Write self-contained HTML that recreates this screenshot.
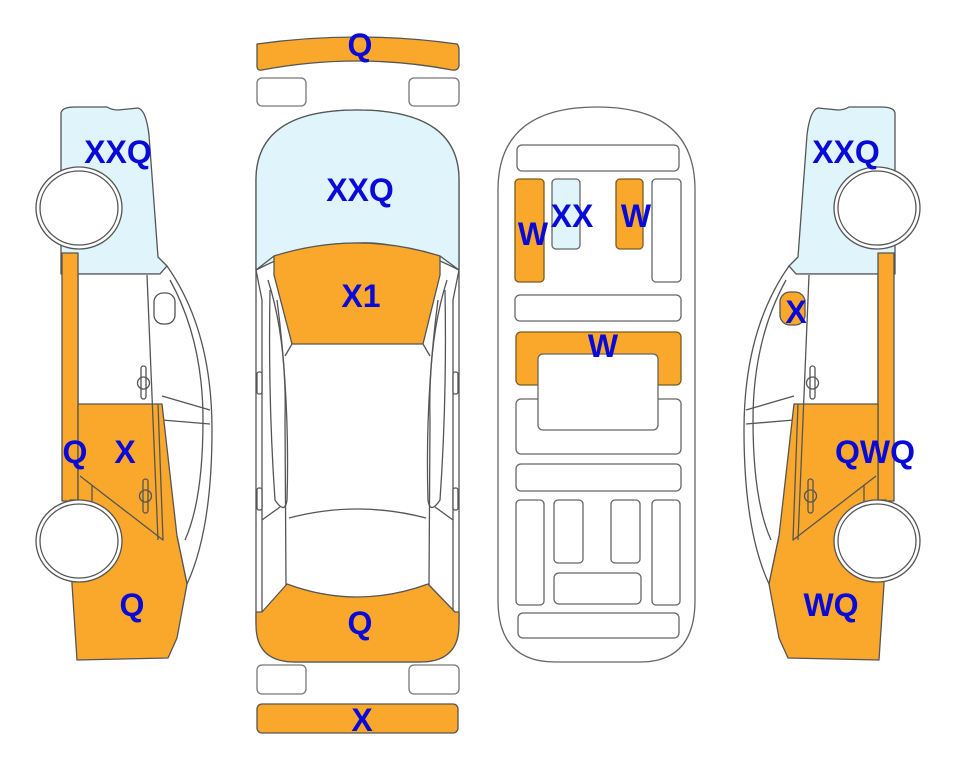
<!DOCTYPE html>
<html><head><meta charset="utf-8"><style>
html,body{margin:0;padding:0;background:#fff;}
svg{display:block;}
text{font-family:"Liberation Sans",Arial,sans-serif;font-weight:bold;font-size:32px;fill:#0a0ad8;text-anchor:middle;}
</style></head><body>
<svg width="963" height="768" viewBox="0 0 963 768" xmlns="http://www.w3.org/2000/svg">
<defs>
<g id="car" stroke="#555" stroke-width="1.3" stroke-linejoin="round">
  <path d="M61,113 Q62,107 75,107 L107,107 Q112,110 118,110 L138,108 Q146,110 149,135 L158,257 L167,266 L160,274 L78,274 L61,274 Z" fill="#dff4fb"/>
  <path d="M160,274 L167,266 Q212,330 212,430 Q212,530 187,584 L177,536 L163,540 L80,476 L78,404 L78,274 Z" fill="#fff"/>
  <path d="M170,280 Q203,340 203,420 Q203,500 185,540" fill="none"/>
  <path d="M162,396 L210,410 M162,420 L210,424" fill="none"/>
  <rect x="62" y="253" width="16" height="248" fill="#f9a82b"/>
  <path d="M78,404 L162,404 L177,536 L187,584 L177,638 L168,658 L77,660 L72,584 L70,500 L78,500 Z" fill="#f9a82b"/>
  <path d="M80,476 L163,540 L158,404" fill="none"/>
  <path d="M92,485 L92,505" fill="none"/>
  <path d="M147,275 L158,540" fill="none"/>
  <rect x="141" y="366" width="5" height="33" rx="2.5" fill="none"/>
  <circle cx="143.5" cy="383" r="6" fill="none"/>
  <rect x="143" y="479" width="5" height="34" rx="2.5" fill="none"/>
  <circle cx="145.5" cy="496" r="6" fill="none"/>
  <rect x="154" y="293" width="21" height="31" rx="9" fill="#fff"/>
  <ellipse cx="79" cy="208" rx="43" ry="41" fill="#fff"/>
  <ellipse cx="79" cy="208" rx="39" ry="37" fill="#fff"/>
  <ellipse cx="79" cy="541" rx="43" ry="41" fill="#fff"/>
  <ellipse cx="79" cy="541" rx="39" ry="37" fill="#fff"/>
</g>
</defs>

<use href="#car"/>
<text x="118" y="163">XXQ</text>
<text x="75" y="463">Q</text>
<text x="125" y="463">X</text>
<text x="132" y="616">Q</text>

<g transform="translate(956,0) scale(-1,1)">
  <use href="#car"/>
  <rect x="151" y="292" width="25" height="33" rx="10" fill="#f9a82b" stroke="#555" stroke-width="1.3"/>
</g>
<text x="846" y="163">XXQ</text>
<text x="796" y="323">X</text>
<text x="875" y="463">QWQ</text>
<text x="831" y="616">WQ</text>

<g stroke="#555" stroke-width="1.3" stroke-linejoin="round">
  <path d="M257,44 Q357,30 457,44 Q459,46 459,50 L459,66 Q458,71 452,70 Q357,52 262,70 Q257,71 257,66 L257,50 Q257,46 257,44 Z" fill="#f9a82b"/>
  <rect x="257" y="78" width="49" height="28" rx="5" fill="#fff" stroke="#777"/>
  <rect x="409" y="78" width="50" height="28" rx="5" fill="#fff" stroke="#777"/>
  <rect x="257" y="665" width="49" height="29" rx="5" fill="#fff" stroke="#777"/>
  <rect x="409" y="665" width="50" height="29" rx="5" fill="#fff" stroke="#777"/>
  <rect x="257" y="704" width="201" height="29" rx="5" fill="#f9a82b"/>

  <path d="M256,180 Q256,110 357,110 Q459,110 459,180 L459,620 Q459,662 420,662 L295,662 Q256,662 256,620 Z" fill="#fff"/>
  <path d="M256,180 Q256,110 357,110 Q459,110 459,180 L459,270 Q400,240 357,243 Q310,242 256,270 Z" fill="#dff4fb"/>
  <path d="M274,256 Q357,230 440,256 L440,275 L423,344 L292,344 L274,275 Z" fill="#f9a82b"/>
  <path d="M256,270 L274,256 M459,270 L440,256" fill="none"/>
  <path d="M256,270 L262,300 L262,620 M459,270 L453,300 L453,620" fill="none"/>
  <path d="M268,280 Q287,340 285,420 L286,585 M447,280 Q428,340 430,420 L429,585" fill="none"/>
  <path d="M292,344 L285,356 M423,344 L430,356" fill="none"/>
  <path d="M277,300 Q290,400 287,500 Q285,515 275,500 Q268,400 270,290" fill="none"/>
  <path d="M438,300 Q425,400 428,500 Q430,515 440,500 Q447,400 445,290" fill="none"/>
  <path d="M289,518 Q357,500 426,518" fill="none"/>
  <path d="M262,520 L280,507 M453,520 L435,507" fill="none"/>
  <rect x="257" y="372" width="5" height="22" rx="2" fill="#fff"/>
  <rect x="453" y="372" width="5" height="22" rx="2" fill="#fff"/>
  <rect x="257" y="488" width="5" height="22" rx="2" fill="#fff"/>
  <rect x="453" y="488" width="5" height="22" rx="2" fill="#fff"/>
  <path d="M287,584 Q357,610 428,584 L455,612 L459,612 L459,625 Q459,662 420,662 L295,662 Q256,662 256,625 L256,612 L262,612 Z" fill="#f9a82b"/>
</g>
<text x="360" y="56">Q</text>
<text x="360" y="201">XXQ</text>
<text x="361" y="307">X1</text>
<text x="360" y="634">Q</text>
<text x="362" y="731">X</text>

<g stroke="#666" stroke-width="1.3">
  <path d="M498,190 Q498,107 597,107 Q695,107 695,190 L695,600 Q695,662 640,662 L555,662 Q498,662 498,600 Z" fill="#fff"/>
  <rect x="517" y="145" width="162" height="26" rx="5" fill="#fff"/>
  <rect x="515" y="179" width="29" height="103" rx="4" fill="#f9a82b" stroke="#7a5a20"/>
  <rect x="552" y="179" width="28" height="70" rx="4" fill="#dff4fb"/>
  <rect x="616" y="179" width="27" height="70" rx="4" fill="#f9a82b" stroke="#7a5a20"/>
  <rect x="652" y="179" width="29" height="103" rx="4" fill="#fff"/>
  <rect x="515" y="295" width="166" height="26" rx="5" fill="#fff"/>
  <rect x="516" y="399" width="165" height="55" rx="5" fill="#fff"/>
  <rect x="516" y="332" width="165" height="53" rx="5" fill="#f9a82b" stroke="#7a5a20"/>
  <rect x="538" y="354" width="120" height="76" rx="5" fill="#fff"/>
  <rect x="516" y="464" width="165" height="27" rx="5" fill="#fff"/>
  <rect x="516" y="500" width="28" height="105" rx="4" fill="#fff"/>
  <rect x="554" y="500" width="29" height="63" rx="4" fill="#fff"/>
  <rect x="611" y="500" width="29" height="63" rx="4" fill="#fff"/>
  <rect x="652" y="500" width="28" height="105" rx="4" fill="#fff"/>
  <rect x="554" y="573" width="87" height="31" rx="5" fill="#fff"/>
  <rect x="518" y="613" width="161" height="25" rx="5" fill="#fff"/>
</g>
<text x="533" y="245">W</text>
<text x="572" y="227">XX</text>
<text x="636" y="227">W</text>
<text x="603" y="357">W</text>
</svg>
</body></html>
